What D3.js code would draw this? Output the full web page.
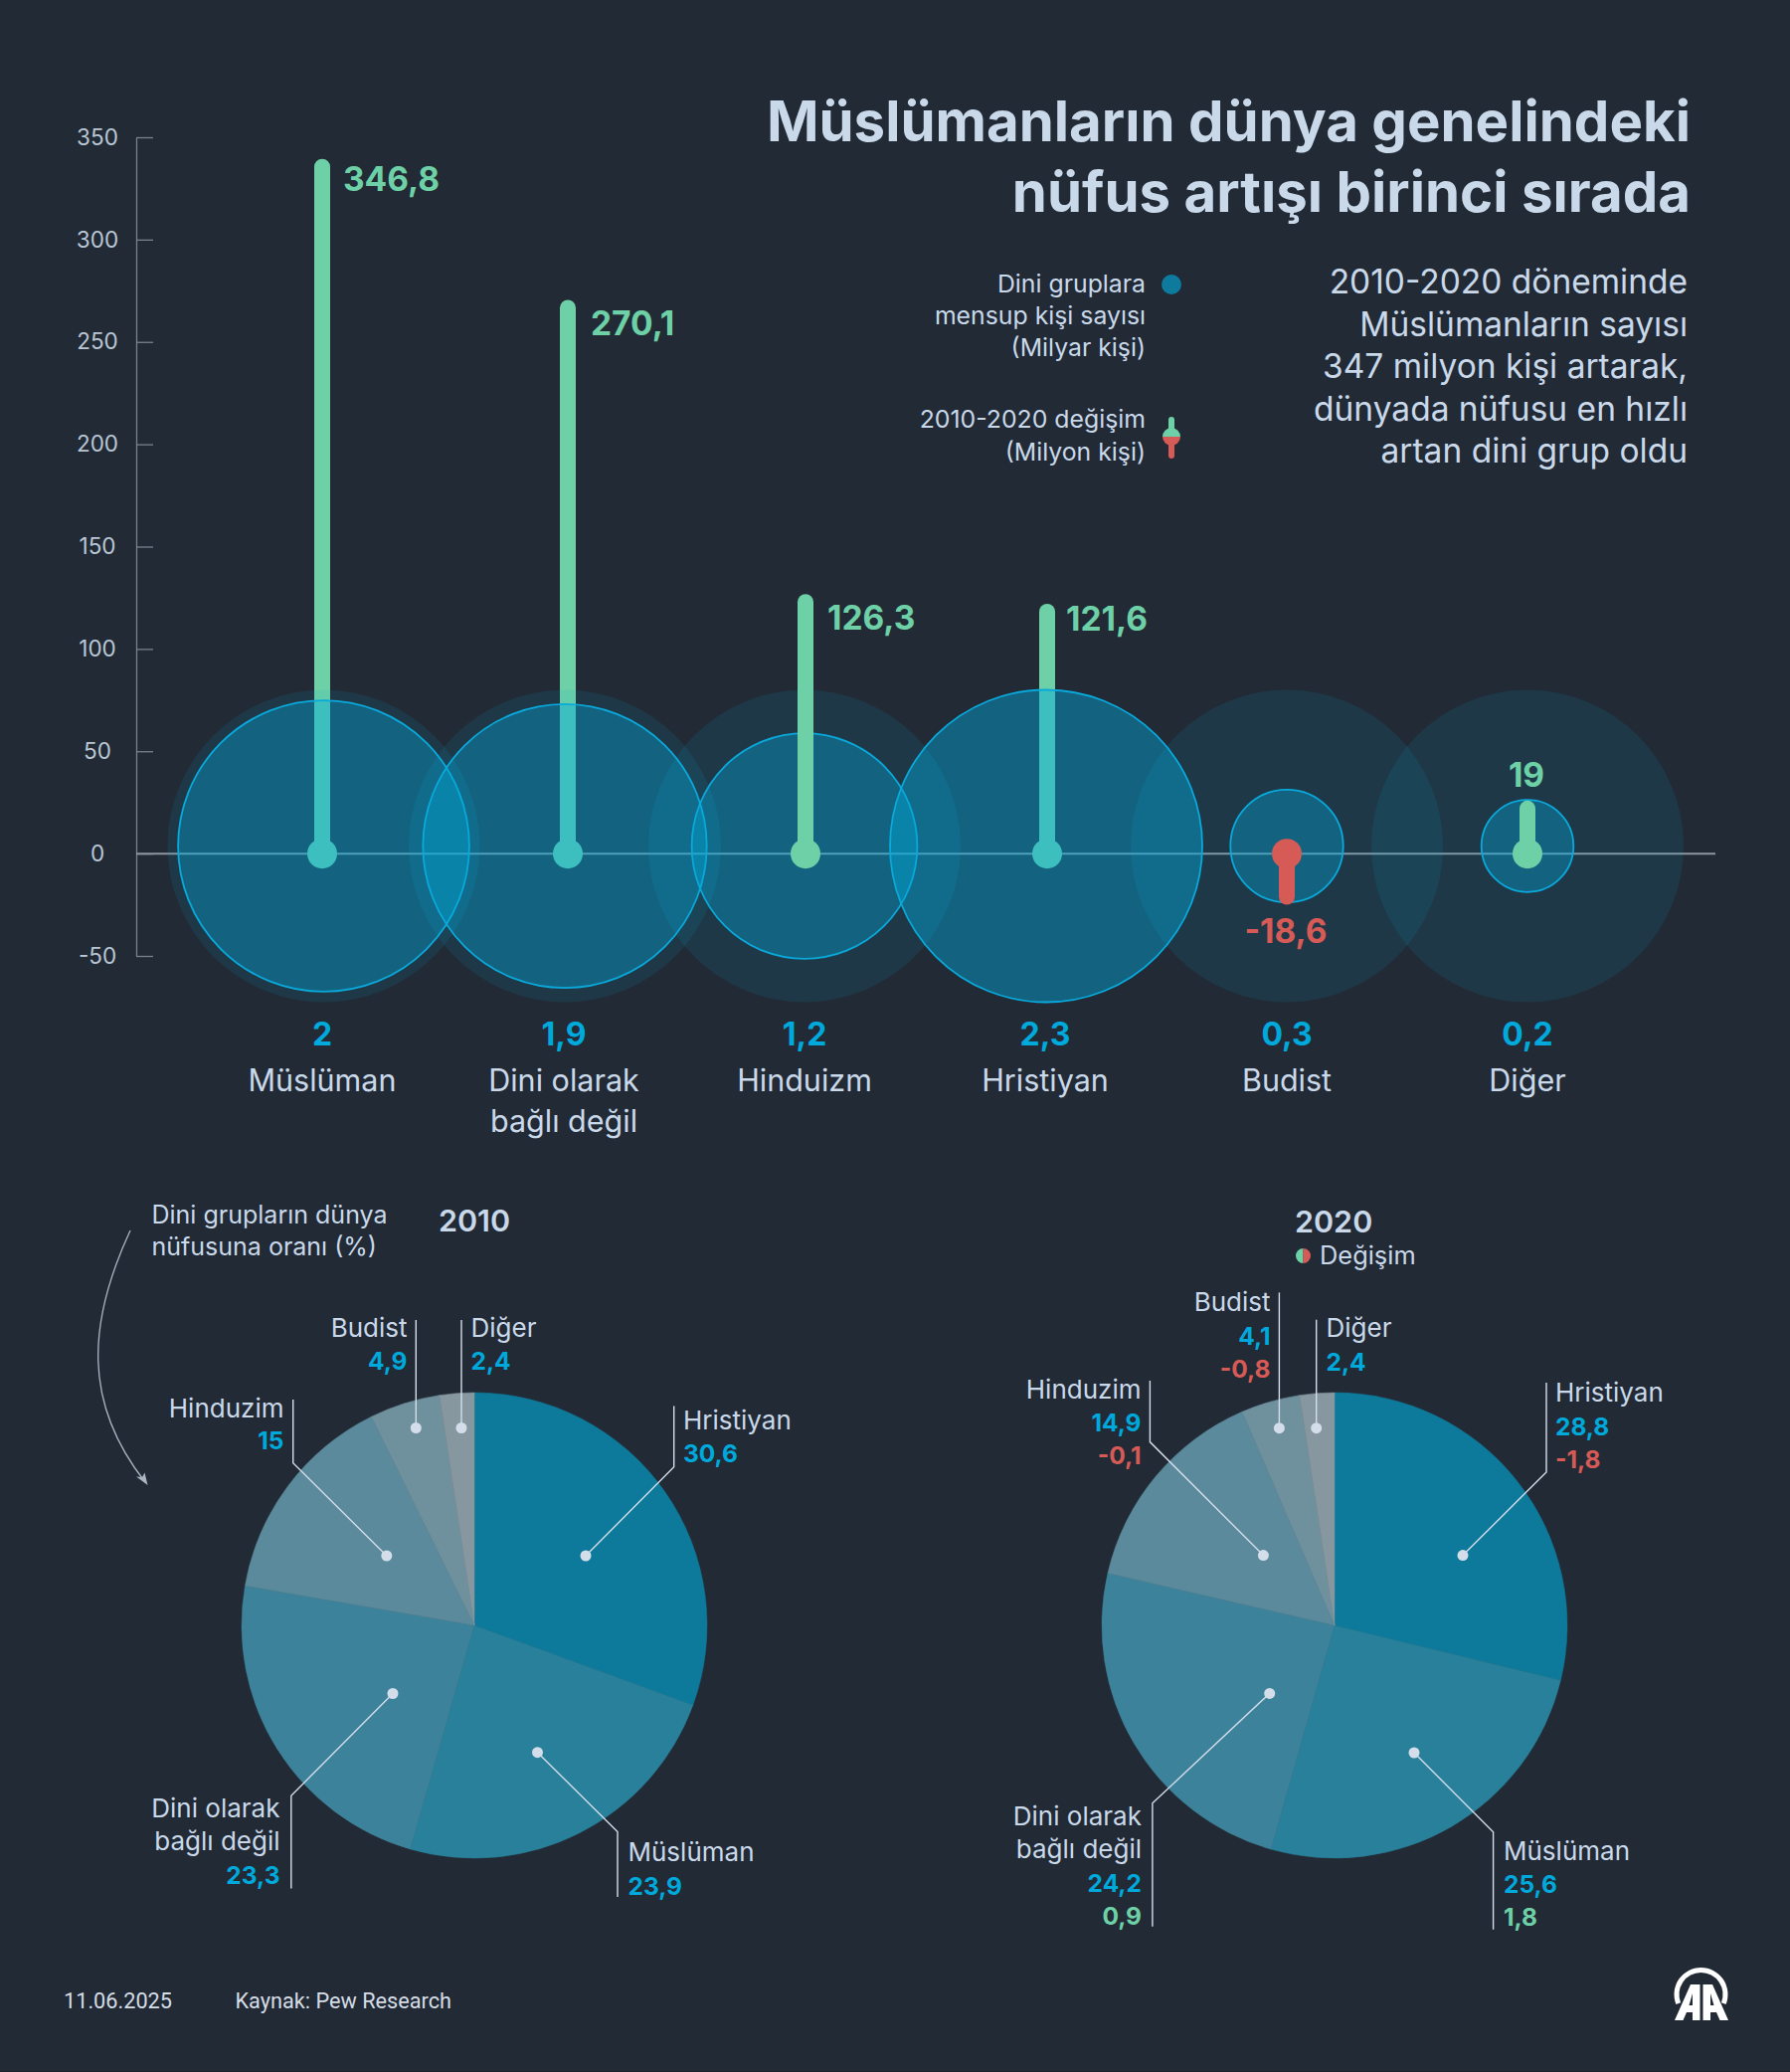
<!DOCTYPE html>
<html>
<head>
<meta charset="utf-8">
<script src="https://cdn.jsdelivr.net/npm/d3@7"></script>
<style>
  body { margin: 0; background: #222a35; }
  svg { display: block; }
  text { font-family: Inter, sans-serif; }
</style>
</head>
<body>
<svg width="1800" height="2083"></svg>
<script>
// values
var groups = ["Müslüman", "Dini olarak bağlı değil", "Hinduizm", "Hristiyan", "Budist", "Diğer"];
var groupLines = [["Müslüman"], ["Dini olarak", "bağlı değil"], ["Hinduizm"], ["Hristiyan"], ["Budist"], ["Diğer"]];
var population = [2, 1.9, 1.2, 2.3, 0.3, 0.2];
var change = [346.8, 270.1, 126.3, 121.6, -18.6, 19];
// where each stalk really ends in the picture (not always the same as its printed label)
var stalkEnd = [339, 270.1, 126.3, 121.6, -25, 25.4];
var yTicks = [-50, 0, 50, 100, 150, 200, 250, 300, 350];

var pieGroups = ["Hristiyan", "Müslüman", "Dini olarak bağlı değil", "Hinduizm", "Budist", "Diğer"];
var share2010 = [30.6, 23.9, 23.3, 15, 4.9, 2.4];
var share2020 = [28.8, 25.6, 24.2, 14.9, 4.1, 2.4];
var delta2020 = [-1.8, 1.8, 0.9, -0.1, -0.8, null];

var title = ["Müslümanların dünya genelindeki", "nüfus artışı birinci sırada"];
var intro = ["2010-2020 döneminde", "Müslümanların sayısı", "347 milyon kişi artarak,", "dünyada nüfusu en hızlı", "artan dini grup oldu"];

// colours
var bg = "#222a35", lightText = "#c9d9ea", green = "#6dd0a6", red = "#d65a56", blue = "#00a9dc";
var sliceColors = ["#0e7a9b", "#28809b", "#3d829b", "#5a8a9b", "#6f919e", "#87979f"];

var svg = d3.select("svg");
var tr = d3.formatLocale({decimal: ",", thousands: ".", grouping: [3], currency: ["", ""], minus: "-"});
var fmt = tr.format("~g");

// scales
var yScale = d3.scaleLinear().domain([-50, 350]).range([961, 138]);
var xStalk = d3.scaleOrdinal().domain(groups).range([324, 571, 810, 1053, 1294, 1536]);
var xCircle = d3.scaleOrdinal().domain(groups).range([325.5, 568, 809, 1052, 1294, 1536]);
var xLabel = d3.scaleOrdinal().domain(groups).range([324, 567, 809, 1051, 1294, 1536]);
var rScale = d3.scaleSqrt().domain([0, 2.3]).range([0, 157]);
var circleY = 850.5;

// thin darker row at the very bottom of the page
svg.append("rect").attr("x", 0).attr("y", 2082).attr("width", 1800).attr("height", 1).attr("fill", "#1a2029");

// y axis
var yAxis = svg.append("g")
    .attr("transform", "translate(137,0)")
    .call(d3.axisLeft(yScale).tickValues(yTicks).tickFormat(tr.format("d")).tickSize(-17).tickSizeOuter(0));
yAxis.select(".domain").attr("stroke", "#78838f").attr("stroke-width", 1.3);
yAxis.selectAll(".tick line").attr("stroke", "#78838f").attr("stroke-width", 1.3);
yAxis.selectAll(".tick text")
    .attr("x", -39)
    .attr("text-anchor", "middle")
    .attr("fill", "#b9c7d6")
    .style("font-size", "22.5px")
    .style("font-family", "Inter, sans-serif");

// zero line
svg.append("line")
    .attr("x1", 137).attr("x2", 1725)
    .attr("y1", yScale(0)).attr("y2", yScale(0))
    .attr("stroke", "#8b96a1").attr("stroke-width", 2);

function drawStalk(i) {
  var name = groups[i], col = change[i] < 0 ? red : green;
  var x = xStalk(name);
  svg.append("line")
      .attr("x1", x).attr("x2", x)
      .attr("y1", yScale(0))
      .attr("y2", yScale(stalkEnd[i]) + (stalkEnd[i] < 0 ? -8 : 7))
      .attr("stroke", col).attr("stroke-width", 16).attr("stroke-linecap", "round");
  svg.append("circle")
      .attr("cx", x).attr("cy", yScale(0)).attr("r", 15).attr("fill", col);
}

// the two tallest and the Christian stalk sit under the circles, the rest on top
[0, 1, 3].forEach(drawStalk);

// pale circles = size of the largest group
svg.selectAll(".pale")
    .data(groups)
  .enter().append("circle")
    .attr("class", "pale")
    .attr("cx", function(d) { return xCircle(d); })
    .attr("cy", circleY)
    .attr("r", rScale(2.3))
    .attr("fill", "rgba(8,170,220,0.11)");

svg.selectAll(".pop")
    .data(groups)
  .enter().append("circle")
    .attr("class", "pop")
    .attr("cx", function(d) { return xCircle(d); })
    .attr("cy", circleY)
    .attr("r", function(d, i) { return rScale(population[i]); })
    .attr("fill", "rgba(0,170,220,0.38)")
    .attr("stroke", "#0aa9dc")
    .attr("stroke-width", 1.8);

[2, 4, 5].forEach(drawStalk);

// change labels
var changeLabelPos = [[345, 191.5, "start"], [594, 337, "start"], [832, 632.5, "start"], [1072, 634, "start"], [1293, 948, "middle"], [1535, 791, "middle"]];
svg.selectAll(".chg")
    .data(change)
  .enter().append("text")
    .attr("class", "chg")
    .attr("x", function(d, i) { return changeLabelPos[i][0]; })
    .attr("y", function(d, i) { return changeLabelPos[i][1]; })
    .attr("text-anchor", function(d, i) { return changeLabelPos[i][2]; })
    .attr("fill", function(d) { return d < 0 ? red : green; })
    .style("font-size", "33.5px").style("font-weight", 700)
    .text(function(d) { return fmt(d); });

// population value + group name under the circles
groups.forEach(function(name, i) {
  svg.append("text")
      .attr("x", xLabel(name)).attr("y", 1051)
      .attr("text-anchor", "middle").attr("fill", blue)
      .style("font-size", "32px").style("font-weight", 700)
      .text(fmt(population[i]));
  groupLines[i].forEach(function(line, j) {
    svg.append("text")
        .attr("x", xLabel(name)).attr("y", 1097 + j * 41)
        .attr("text-anchor", "middle").attr("fill", lightText)
        .style("font-size", "30.5px").style("font-weight", 400)
        .text(line);
  });
});

// title + intro
title.forEach(function(line, i) {
  svg.append("text")
      .attr("x", 1700).attr("y", 142 + i * 71)
      .attr("text-anchor", "end").attr("fill", lightText)
      .style("font-size", "56.4px").style("font-weight", 700)
      .text(line);
});
intro.forEach(function(line, i) {
  svg.append("text")
      .attr("x", 1697).attr("y", 295 + i * 42.5)
      .attr("text-anchor", "end").attr("fill", lightText)
      .style("font-size", "33.5px").style("font-weight", 400)
      .text(line);
});

// legend
[["Dini gruplara", 293.5], ["mensup kişi sayısı", 325.5], ["(Milyar kişi)", 358], ["2010-2020 değişim", 430], ["(Milyon kişi)", 463]].forEach(function(d) {
  svg.append("text")
      .attr("x", 1152).attr("y", d[1])
      .attr("text-anchor", "end").attr("fill", lightText)
      .style("font-size", "24.8px").style("font-weight", 400)
      .text(d[0]);
});
svg.append("circle").attr("cx", 1178).attr("cy", 286).attr("r", 10).attr("fill", "#0d7a9e");
svg.append("line").attr("x1", 1178).attr("x2", 1178).attr("y1", 422).attr("y2", 439)
    .attr("stroke", green).attr("stroke-width", 6).attr("stroke-linecap", "round");
svg.append("line").attr("x1", 1178).attr("x2", 1178).attr("y1", 439).attr("y2", 458)
    .attr("stroke", red).attr("stroke-width", 6).attr("stroke-linecap", "round");
function halfDisc(cx, cy, r, a0, a1, col) {
  svg.append("path")
      .attr("transform", "translate(" + cx + "," + cy + ")")
      .attr("d", d3.arc().innerRadius(0).outerRadius(r).startAngle(a0).endAngle(a1)())
      .attr("fill", col);
}
halfDisc(1178, 439, 9, -Math.PI / 2, Math.PI / 2, green);
halfDisc(1178, 439, 9, Math.PI / 2, 3 * Math.PI / 2, red);

// pies
var pie = d3.pie().sort(null).value(function(d) { return d; });
var arc = d3.arc().innerRadius(0).outerRadius(234);

function drawPie(values, cx, cy) {
  svg.append("g")
      .attr("transform", "translate(" + cx + "," + cy + ")")
    .selectAll("path")
      .data(pie(values))
    .enter().append("path")
      .attr("d", arc)
      .attr("fill", function(d, i) { return sliceColors[i]; })
      .attr("stroke", function(d, i) { return sliceColors[i]; })
      .attr("stroke-width", 0.5);
}
drawPie(share2010, 477, 1634);
drawPie(share2020, 1342, 1634);

// leader lines, same order as pieGroups
var leaders2010 = [
  [[589, 1564], [677.7, 1474.7], [677.7, 1413.6]],
  [[540.5, 1761.7], [621, 1841.6], [621, 1907]],
  [[395, 1702.5], [292.8, 1805.3], [292.8, 1898.4]],
  [[388.8, 1564], [294.7, 1470.8], [294.7, 1406.9]],
  [[418.3, 1435.5], [418.3, 1326.9]],
  [[464, 1435.5], [464, 1326.9]]
];
var leaders2020 = [
  [[1471, 1563.6], [1555, 1480], [1555, 1390]],
  [[1422, 1762], [1501.6, 1841.7], [1501.6, 1939.7]],
  [[1276.7, 1702.4], [1158.9, 1812.8], [1158.9, 1936.7]],
  [[1270.4, 1563.6], [1156.4, 1449.6], [1156.4, 1388]],
  [[1286.4, 1435.7], [1286.4, 1299.4]],
  [[1323.7, 1435.7], [1323.7, 1326.8]]
];
var leaderPath = d3.line();
function drawLeaders(list) {
  list.forEach(function(pts) {
    svg.append("path")
        .attr("d", leaderPath(pts))
        .attr("fill", "none").attr("stroke", "#d4deea").attr("stroke-width", 1.4);
    svg.append("circle")
        .attr("cx", pts[0][0]).attr("cy", pts[0][1]).attr("r", 5.5)
        .attr("fill", "#d4deea");
  });
}
drawLeaders(leaders2010);
drawLeaders(leaders2020);

// pie label blocks: x, anchor, baselines
var labels2010 = [
  [687, "start", [1437, 1470]],
  [631.5, "start", [1870.5, 1904.5]],
  [281.5, "end", [1827, 1860, 1893.5]],
  [285.5, "end", [1425, 1457]],
  [409.5, "end", [1344, 1377]],
  [473.5, "start", [1344, 1377]]
];
var labels2020 = [
  [1564, "start", [1409, 1442.5, 1476]],
  [1512, "start", [1869.5, 1902.5, 1936]],
  [1148, "end", [1835, 1868, 1901.5, 1935]],
  [1147.5, "end", [1406, 1439, 1472]],
  [1277.5, "end", [1318, 1352, 1385]],
  [1333.5, "start", [1344, 1377.5]]
];
// the pie labels spell Hinduism differently from the top chart
var pieLines = [["Hristiyan"], ["Müslüman"], ["Dini olarak", "bağlı değil"], ["Hinduzim"], ["Budist"], ["Diğer"]];

function drawLabels(blocks, shares, deltas) {
  blocks.forEach(function(b, i) {
    var rows = pieLines[i].map(function(t) { return {t: t, col: lightText, w: 400, s: 26}; });
    rows.push({t: fmt(shares[i]), col: blue, w: 700, s: 24.5});
    if (deltas && deltas[i] !== null) {
      rows.push({t: fmt(deltas[i]), col: deltas[i] < 0 ? red : green, w: 700, s: 24.5});
    }
    rows.forEach(function(r, j) {
      svg.append("text")
          .attr("x", b[0]).attr("y", b[2][j])
          .attr("text-anchor", b[1]).attr("fill", r.col)
          .style("font-size", r.s + "px").style("font-weight", r.w)
          .text(r.t);
    });
  });
}
drawLabels(labels2010, share2010, null);
drawLabels(labels2020, share2020, delta2020);

// year headings and notes
svg.append("text").attr("x", 441).attr("y", 1238).attr("fill", lightText)
    .style("font-size", "30.5px").style("font-weight", 600).text("2010");
svg.append("text").attr("x", 1302).attr("y", 1238.5).attr("fill", lightText)
    .style("font-size", "30.5px").style("font-weight", 600).text("2020");
svg.append("text").attr("x", 1327).attr("y", 1271).attr("fill", lightText)
    .style("font-size", "25.4px").text("Değişim");
halfDisc(1310.5, 1262.5, 7.5, Math.PI, 2 * Math.PI, green);
halfDisc(1310.5, 1262.5, 7.5, 0, Math.PI, red);

["Dini grupların dünya", "nüfusuna oranı (%)"].forEach(function(line, i) {
  svg.append("text").attr("x", 152.5).attr("y", 1230 + i * 31.5).attr("fill", lightText)
      .style("font-size", "25px").text(line);
});

// curved arrow
var curve = d3.path();
curve.moveTo(131, 1237);
curve.bezierCurveTo(88, 1330, 83, 1410, 146, 1490);
svg.append("path").attr("d", curve.toString())
    .attr("fill", "none").attr("stroke", "#aab6c2").attr("stroke-width", 1.3);
svg.append("path").attr("d", "M148.5,1493 L137,1484.5 L143,1485 L145.5,1480.5 Z").attr("fill", "#aab6c2");

// footer
svg.append("text").attr("x", 64).attr("y", 2019).attr("fill", "#d5dde6")
    .style("font-family", "Roboto, sans-serif").style("font-size", "21.7px").text("11.06.2025");
svg.append("text").attr("x", 236.5).attr("y", 2019).attr("fill", "#d5dde6")
    .style("font-family", "Roboto, sans-serif").style("font-size", "21.7px").text("Kaynak: Pew Research");

// AA logo
var logo = svg.append("g").attr("fill", "#fff");
logo.append("path")
    .attr("transform", "translate(1710.5,2005)")
    .attr("d", d3.arc().innerRadius(22).outerRadius(27).startAngle(-1.95).endAngle(1.95)());
var halfA = "M1684,2031 L1700,1995 L1709.5,1995 L1709.5,2031 L1702,2031 L1702,2023 L1696,2023 L1692.5,2031 Z M1702,2016 L1702,2004 L1698.5,2016 Z";
logo.append("path").attr("d", halfA).attr("fill-rule", "evenodd");
logo.append("path").attr("d", halfA).attr("fill-rule", "evenodd")
    .attr("transform", "translate(3422,0) scale(-1,1)");
</script>
</body>
</html>
